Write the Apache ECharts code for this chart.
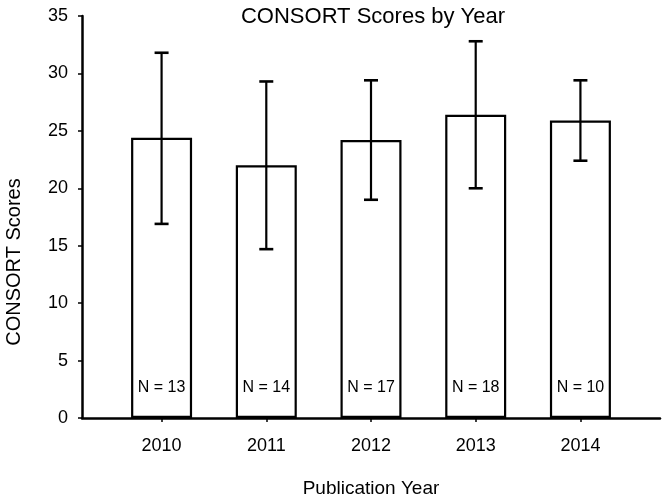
<!DOCTYPE html>
<html>
<head>
<meta charset="utf-8">
<script src="https://cdn.jsdelivr.net/npm/echarts@6/dist/echarts.min.js"></script>
<style>html,body{margin:0;padding:0;background:#fff;}#c{width:666px;height:503px;}</style>
</head>
<body>
<div id="c"></div>
<script>
var categories = ['2010', '2011', '2012', '2013', '2014'];
var means = [24.4, 22.0, 24.2, 26.4, 25.9];
var lowerErr = [16.9, 14.7, 19.0, 20.0, 22.4];
var upperErr = [31.8, 29.3, 29.4, 32.8, 29.4];
var nCounts = [13, 14, 17, 18, 10];
var yTicks = [0, 5, 10, 15, 20, 25, 30, 35];

var FONT = '"Liberation Sans", Arial, sans-serif';
var idx = categories.map(function (c, i) { return i; });

var chart = echarts.init(document.getElementById('c'), null, {renderer: 'canvas'});
chart.setOption({
  backgroundColor: '#fff',
  animation: false,
  title: {
    text: 'CONSORT Scores by Year',
    left: 368, textAlign: 'center', top: 1,
    textStyle: {fontFamily: FONT, fontSize: 22, fontWeight: 'normal', color: '#000'}
  },
  graphic: [{
    type: 'text',
    x: 14, y: 262, rotation: Math.PI / 2,
    style: {text: 'CONSORT Scores', fontFamily: FONT, fontSize: 20, fill: '#000',
            align: 'center', verticalAlign: 'middle'}
  }],
  grid: {left: 82, right: 6, top: 16, bottom: 83},
  xAxis: {
    type: 'value', min: -0.76, max: 4.76,
    splitLine: {show: false},
    axisLine: {show: true, onZero: false, lineStyle: {color: '#000', width: 2.5}},
    axisTick: {show: true, length: 4, inside: false, customValues: idx, lineStyle: {color: '#000', width: 1.5}},
    axisLabel: {customValues: idx, margin: 19, fontFamily: FONT, fontSize: 18, color: '#000',
      formatter: function (v) { return categories[Math.round(v)]; }},
    name: 'Publication Year', nameLocation: 'middle', nameGap: 61,
    nameTextStyle: {fontFamily: FONT, fontSize: 19, color: '#000'}
  },
  yAxis: {
    type: 'value', min: 0, max: 35, interval: 5,
    splitLine: {show: false},
    axisLine: {show: true, onZero: false, lineStyle: {color: '#000', width: 2.5}},
    axisTick: {show: true, length: 4, lineStyle: {color: '#000', width: 1.5}},
    axisLabel: {margin: 14, fontFamily: FONT, fontSize: 18, color: '#000',
      formatter: function (v) { return yTicks.indexOf(v) >= 0 ? String(v) : ''; }}
  },
  series: [{
    type: 'bar',
    barWidth: 61,
    data: means.map(function (m, i) { return [i, m]; }),
    itemStyle: {color: '#fff', borderColor: '#000', borderWidth: 2.2},
    label: {
      show: true, position: 'insideBottom', distance: 22,
      fontFamily: FONT, fontSize: 16, color: '#000',
      formatter: function (p) { return 'N = ' + nCounts[p.dataIndex]; }
    },
    z: 2
  }, {
    type: 'custom',
    z: 5,
    data: means.map(function (m, i) { return [i, lowerErr[i], upperErr[i]]; }),
    renderItem: function (params, api) {
      var x = api.value(0);
      var lo = api.coord([x, api.value(1)]);
      var hi = api.coord([x, api.value(2)]);
      var hw = 7;
      var st = {stroke: '#000', lineWidth: 2.2};
      return {
        type: 'group',
        children: [
          {type: 'line', shape: {x1: lo[0], y1: lo[1], x2: hi[0], y2: hi[1]}, style: st},
          {type: 'line', shape: {x1: lo[0] - hw, y1: lo[1], x2: lo[0] + hw, y2: lo[1]}, style: {stroke: '#000', lineWidth: 2.6}},
          {type: 'line', shape: {x1: hi[0] - hw, y1: hi[1], x2: hi[0] + hw, y2: hi[1]}, style: {stroke: '#000', lineWidth: 2.6}}
        ]
      };
    }
  }]
});
</script>
</body>
</html>
